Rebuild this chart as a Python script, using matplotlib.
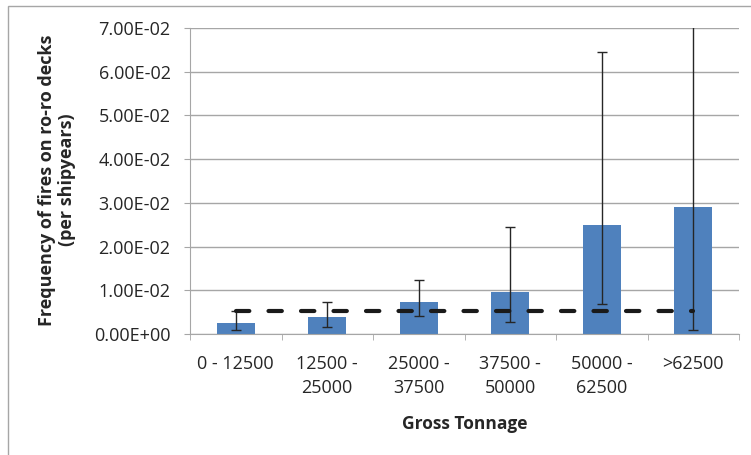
import matplotlib
matplotlib.use("Agg")
import matplotlib.pyplot as plt
from matplotlib.patches import Rectangle
from matplotlib.ticker import FuncFormatter, MultipleLocator

# data
categories = ["0 - 12500", "12500 -\n25000", "25000 -\n37500",
              "37500 -\n50000", "50000 -\n62500", ">62500"]
freq = [0.0025, 0.0039, 0.0074, 0.0097, 0.0250, 0.0290]
err_low = [0.0009, 0.0016, 0.0041, 0.0027, 0.0068, 0.0009]
err_high = [0.0053, 0.0073, 0.0123, 0.0244, 0.0646, 0.0780]
mean_freq = 0.0052

plt.rcParams['font.family'] = ['Open Sans', 'DejaVu Sans']

fig = plt.figure(figsize=(7.51, 4.55), dpi=100)
# outer chart border (Excel style)
fig.patches.append(Rectangle((8/751, -0.1), 1.2, 1 - 6/455 + 0.1,
                             transform=fig.transFigure, fill=False,
                             edgecolor="#a6a6a6", linewidth=1.0))

ax = fig.add_axes([190/751, 1 - 334/455, (739 - 190)/751, (334 - 28)/455])

x = list(range(len(categories)))
ax.bar(x, freq, width=0.41, color="#4F81BD", zorder=2)
yerr = [[f - lo for f, lo in zip(freq, err_low)],
        [hi - f for f, hi in zip(freq, err_high)]]
ax.errorbar(x, freq, yerr=yerr, fmt="none", ecolor="#262626",
            elinewidth=1.0, capsize=3.3, capthick=1.0, zorder=3)
ax.plot([x[0], x[-1]], [mean_freq, mean_freq], color="#1a1a1a",
        linewidth=3.0, linestyle=(0, (3.2, 4.6)), dash_capstyle="round",
        zorder=4)

ax.set_xlim(-0.5, len(categories) - 0.5)
ax.set_ylim(0, 0.07)
ax.yaxis.set_major_locator(MultipleLocator(0.01))
ax.yaxis.set_major_formatter(FuncFormatter(lambda v, p: "{:.2E}".format(v)))
ax.grid(axis="y", color="#a6a6a6", linewidth=1.0, zorder=0)
ax.set_axisbelow(True)

ax.set_xticks(x)
ax.set_xticklabels(categories, fontsize=13, color="#262626", linespacing=1.45)
ax.set_xticks([i - 0.5 for i in range(len(categories) + 1)], minor=True)
ax.tick_params(axis="x", which="major", length=0, pad=15)
ax.tick_params(axis="x", which="minor", length=4.5, color="#a6a6a6")
ax.tick_params(axis="y", length=4.5, color="#a6a6a6", labelsize=13,
               labelcolor="#262626", pad=9.5)

for s in ["top", "right"]:
    ax.spines[s].set_visible(False)
for s in ["left", "bottom"]:
    ax.spines[s].set_color("#a6a6a6")

ax.set_xlabel("Gross Tonnage", fontsize=12.5, fontweight="bold",
              color="#262626", labelpad=13)
fig.text(57/751, 1 - 180/455, "Frequency of fires on ro-ro decks\n(per shipyears)",
         rotation=90, ha="center", va="center", multialignment="center",
         fontsize=13, fontweight="bold", color="#262626", linespacing=1.15)

fig.savefig("out.png", dpi=100)
